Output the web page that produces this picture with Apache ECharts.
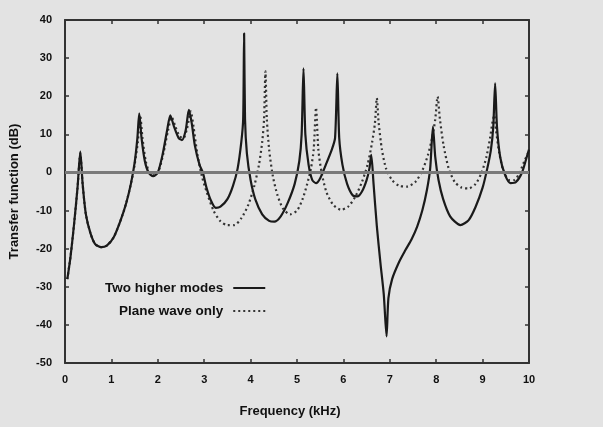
<!DOCTYPE html>
<html>
<head>
<meta charset="utf-8">
<script src="https://cdn.jsdelivr.net/npm/echarts@6/dist/echarts.min.js"></script>
<style>
  html, body { margin: 0; padding: 0; background: #e3e3e3; }
  #chart { width: 603px; height: 427px; }
</style>
</head>
<body>
<div id="chart"></div>
<script>
// Frequency (kHz) vs transfer function (dB)
const twoHigherModes = [
  [0.05, -28], [0.12, -22], [0.2, -13], [0.27, -4], [0.33, 5.5], [0.38, -3],
  [0.45, -11], [0.55, -16], [0.65, -18.8], [0.78, -19.6], [0.9, -19.2], [1.05, -17],
  [1.2, -12.5], [1.32, -8], [1.42, -3], [1.5, 2.5], [1.56, 9], [1.6, 15.5],
  [1.65, 9], [1.72, 3], [1.8, 0], [1.9, -1], [2.0, 0], [2.1, 4.5],
  [2.2, 11], [2.27, 15], [2.35, 12], [2.45, 9], [2.52, 8.5], [2.6, 11],
  [2.67, 16.4], [2.73, 13], [2.8, 7], [2.9, 2], [2.97, 0], [3.05, -4],
  [3.15, -7.5], [3.25, -9.3], [3.35, -9], [3.5, -7], [3.62, -3.5], [3.72, 1],
  [3.8, 8], [3.84, 14], [3.86, 36.5], [3.88, 14], [3.92, 5], [4.0, -2],
  [4.1, -7], [4.25, -11], [4.4, -12.7], [4.51, -12.9], [4.65, -11.5], [4.8, -8],
  [4.95, -3], [5.05, 3], [5.1, 10], [5.14, 27.3], [5.18, 10], [5.25, 2],
  [5.33, -2], [5.41, -2.8], [5.5, -1.5], [5.62, 2], [5.75, 6], [5.82, 9],
  [5.87, 26], [5.91, 9], [5.98, 2], [6.08, -3], [6.2, -6], [6.3, -6.3],
  [6.4, -5], [6.5, -2], [6.56, 1], [6.6, 4.6], [6.65, -3], [6.72, -14],
  [6.8, -24], [6.87, -32], [6.93, -43], [6.97, -33], [7.05, -28], [7.2, -23.5],
  [7.34, -20.3], [7.47, -17.5], [7.59, -14.2], [7.7, -10], [7.8, -4.6], [7.87, 1],
  [7.93, 12], [7.98, 4], [8.05, -2], [8.15, -7], [8.3, -11.5], [8.52, -13.8],
  [8.7, -12.5], [8.85, -9], [9.0, -4], [9.1, 1], [9.18, 6], [9.23, 12],
  [9.27, 23.4], [9.31, 12], [9.38, 4], [9.48, -0.5], [9.6, -2.8], [9.72, -2.5],
  [9.85, 0], [9.95, 4], [10, 6]
];

const planeWaveOnly = [
  [0.05, -28], [0.12, -22], [0.2, -13], [0.27, -4], [0.33, 5], [0.38, -3],
  [0.45, -11], [0.55, -16], [0.65, -18.8], [0.78, -19.6], [0.9, -19.2], [1.05, -17],
  [1.2, -12.5], [1.32, -8], [1.42, -3], [1.5, 2], [1.57, 8], [1.62, 15],
  [1.67, 9], [1.74, 3], [1.82, 0], [1.92, -0.8], [2.02, 0.5], [2.12, 5],
  [2.22, 11], [2.3, 14.5], [2.38, 12], [2.47, 9.5], [2.55, 9], [2.63, 11.5],
  [2.71, 16], [2.77, 12], [2.85, 5], [2.95, -1], [3.05, -5], [3.2, -10],
  [3.35, -12.8], [3.5, -13.8], [3.65, -13.8], [3.8, -12], [3.95, -8.5], [4.08, -3.5],
  [4.18, 2], [4.25, 8], [4.29, 14], [4.32, 26.5], [4.35, 14], [4.4, 6],
  [4.48, -1], [4.58, -6], [4.7, -9.5], [4.85, -11], [5.0, -10], [5.12, -7],
  [5.22, -3], [5.3, 1], [5.36, 6], [5.41, 17], [5.46, 6], [5.53, 0],
  [5.63, -5], [5.78, -8.5], [5.95, -9.8], [6.1, -9], [6.25, -6.5], [6.4, -2.5],
  [6.52, 2], [6.62, 8], [6.68, 13], [6.72, 19.5], [6.76, 13], [6.83, 6],
  [6.92, 1], [7.05, -2], [7.2, -3.5], [7.37, -3.7], [7.55, -2.5], [7.7, 0.5],
  [7.82, 4.5], [7.92, 9.5], [7.98, 14], [8.03, 19.9], [8.08, 14], [8.16, 7],
  [8.27, 1], [8.4, -2.5], [8.55, -4], [8.7, -4.2], [8.85, -3], [8.98, 0],
  [9.08, 4], [9.16, 9], [9.21, 13], [9.25, 15], [9.29, 11], [9.36, 5],
  [9.46, 0], [9.58, -2], [9.68, -2], [9.8, 0], [9.9, 3], [10, 5.5]
];

const seriesNames = ['Two higher modes', 'Plane wave only'];
const xRange = [0, 10];
const yRange = [-50, 40];

const chart = echarts.init(document.getElementById('chart'));

const tickFont = {
  fontFamily: 'Liberation Sans',
  fontWeight: 'bold',
  fontSize: 11,
  color: '#111'
};
const titleFont = { fontFamily: 'Liberation Sans', fontWeight: 'bold', fontSize: 13, color: '#111' };
const axisLine = { show: true, onZero: false, lineStyle: { color: '#333', width: 2 } };
const axisTick = { show: true, inside: true, length: 4, lineStyle: { color: '#333', width: 1.5 } };

const option = {
  backgroundColor: '#e3e3e3',
  animation: false,
  grid: { left: 63, right: 74, top: 20, bottom: 64 },
  legend: {
    left: 100,
    top: 276,
    orient: 'vertical',
    align: 'right',
    itemWidth: 32,
    itemHeight: 10,
    itemGap: 9,
    itemStyle: { opacity: 0 },
    textStyle: {
      fontFamily: 'Liberation Sans', fontWeight: 'bold', fontSize: 13.5, color: '#111',
      padding: [0, 5, 0, 0]
    },
    data: seriesNames
  },
  xAxis: [
    {
      type: 'value', min: xRange[0], max: xRange[1], interval: 1,
      name: 'Frequency (kHz)', nameLocation: 'middle', nameGap: 42,
      nameTextStyle: Object.assign({ padding: [0, 14, 0, 0] }, titleFont),
      axisLine, axisTick, splitLine: { show: false },
      axisLabel: Object.assign({ margin: 11 }, tickFont)
    },
    {
      type: 'value', position: 'top', min: xRange[0], max: xRange[1], interval: 1,
      axisLine, axisTick, splitLine: { show: false }, axisLabel: { show: false }
    }
  ],
  yAxis: [
    {
      type: 'value', min: yRange[0], max: yRange[1], interval: 10,
      name: 'Transfer function (dB)', nameLocation: 'middle', nameGap: 44,
      nameTextStyle: titleFont,
      axisLine, axisTick, splitLine: { show: false },
      axisLabel: Object.assign({ margin: 13 }, tickFont)
    },
    {
      type: 'value', position: 'right', min: yRange[0], max: yRange[1], interval: 10,
      axisLine, axisTick, splitLine: { show: false }, axisLabel: { show: false }
    }
  ],
  series: [
    {
      name: seriesNames[0],
      type: 'line',
      data: twoHigherModes,
      smooth: 0.25,
      symbol: 'none',
      lineStyle: { color: '#1a1a1a', width: 2.2 },
      itemStyle: { color: '#1a1a1a' },
      markLine: {
        silent: true,
        symbol: 'none',
        label: { show: false },
        lineStyle: { color: '#7a7a7a', width: 3, type: 'solid' },
        data: [{ yAxis: 0 }]
      },
      z: 3
    },
    {
      name: seriesNames[1],
      type: 'line',
      data: planeWaveOnly,
      smooth: 0.25,
      symbol: 'none',
      lineStyle: { color: '#333', width: 2.2, type: [2, 3] },
      itemStyle: { color: '#333' },
      z: 2
    }
  ]
};

chart.setOption(option);
</script>
</body>
</html>
